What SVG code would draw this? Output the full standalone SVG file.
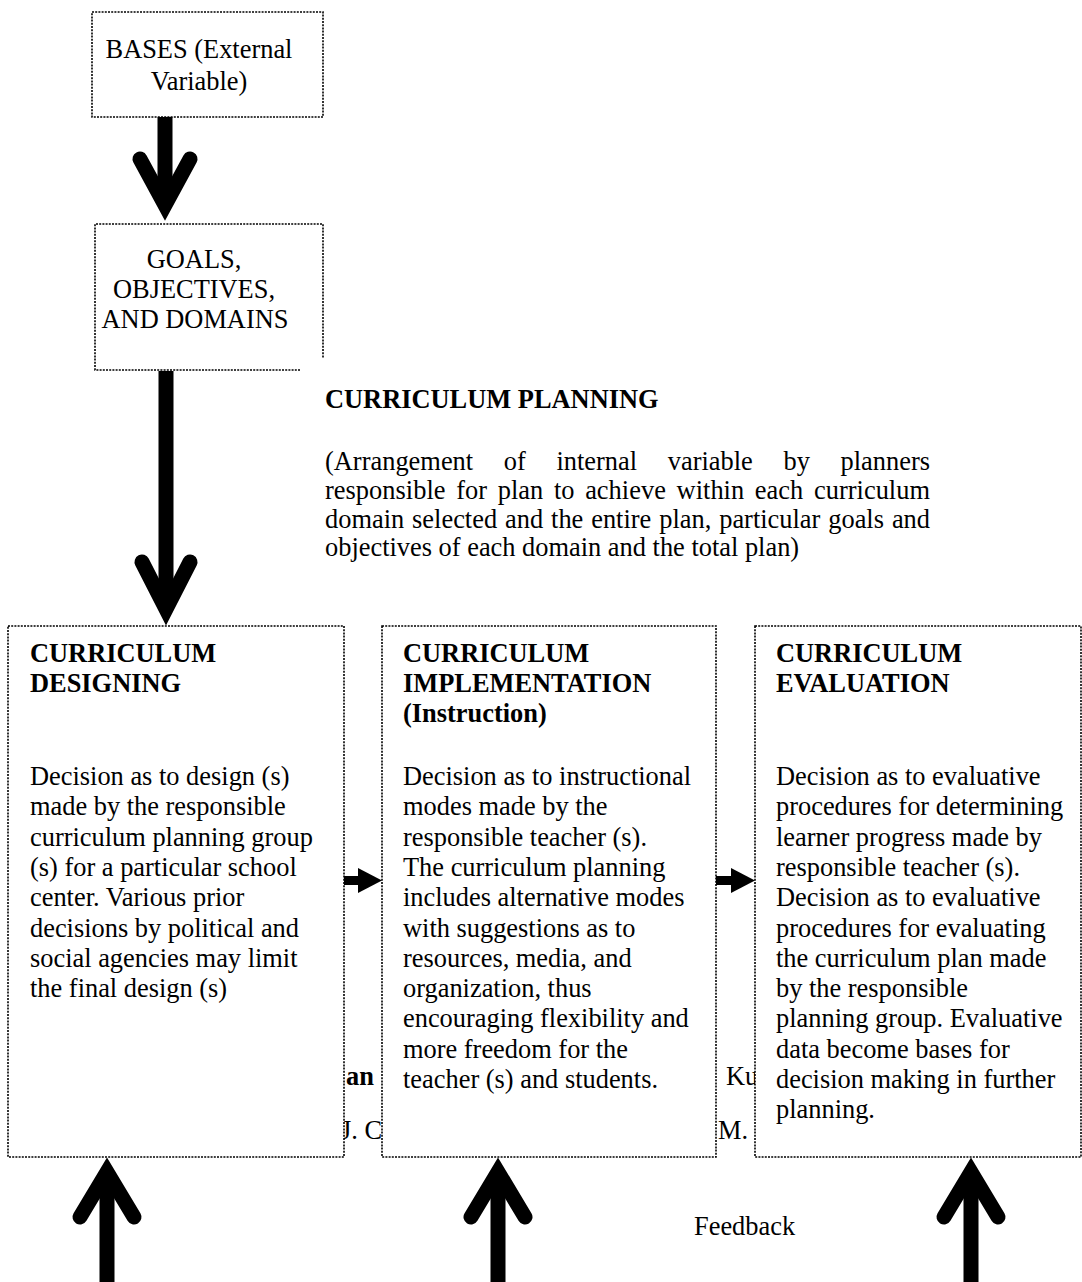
<svg xmlns="http://www.w3.org/2000/svg" width="1082" height="1282" viewBox="0 0 1082 1282">
<style>
text{font-family:"Liberation Serif","Times New Roman",serif;font-size:26.4px;fill:#000}
.b{font-weight:bold}
.box{fill:#fff;stroke:#000;stroke-width:1.6;stroke-dasharray:2 1.2}
.edge{fill:none;stroke:#000;stroke-width:1.6;stroke-dasharray:2 1.2}
.shaft{stroke:#000;stroke-width:15;fill:none}
.head{stroke:#000;stroke-width:15;fill:none;stroke-linecap:round;stroke-linejoin:miter;stroke-miterlimit:10}
</style>
<rect width="1082" height="1282" fill="#fff"/>
<g id="background-text">
<text class="b" x="346" y="1085">an</text>
<text x="726" y="1085">Ku</text>
<text x="341" y="1139">J. C</text>
<text x="718" y="1139">M.</text>
</g>
<g id="bases">
<rect class="box" x="92" y="12" width="231" height="105"/>
<text x="199" y="58" text-anchor="middle">BASES (External</text>
<text x="199" y="90" text-anchor="middle">Variable)</text>
</g>
<g id="goals">
<path class="edge" d="M300,370 H95 V224 H323 V358"/>
<text x="194" y="268" text-anchor="middle">GOALS,</text>
<text x="194" y="298" text-anchor="middle">OBJECTIVES,</text>
<text x="195" y="328" text-anchor="middle">AND DOMAINS</text>
</g>
<g id="planning">
<text class="b" x="325" y="408">CURRICULUM PLANNING</text>
<text x="325" y="470" word-spacing="24" textLength="605" lengthAdjust="spacing">(Arrangement of internal variable by planners</text>
<text x="325" y="499" word-spacing="4" textLength="605" lengthAdjust="spacing">responsible for plan to achieve within each curriculum</text>
<text x="325" y="528" word-spacing="1.3" textLength="605" lengthAdjust="spacing">domain selected and the entire plan, particular goals and</text>
<text x="325" y="556">objectives of each domain and the total plan)</text>
</g>
<g id="designing">
<rect class="box" x="8" y="626" width="336" height="531"/>
<text class="b" x="30" y="662">CURRICULUM</text>
<text class="b" x="30" y="692">DESIGNING</text>
<text x="30" y="785">Decision as to design (s)</text>
<text x="30" y="815.3">made by the responsible</text>
<text x="30" y="845.6">curriculum planning group</text>
<text x="30" y="875.9">(s) for a particular school</text>
<text x="30" y="906.2">center. Various prior</text>
<text x="30" y="936.5">decisions by political and</text>
<text x="30" y="966.8">social agencies may limit</text>
<text x="30" y="997.1">the final design (s)</text>
</g>
<g id="implementation">
<rect class="box" x="382" y="626" width="334" height="531"/>
<text class="b" x="403" y="662">CURRICULUM</text>
<text class="b" x="403" y="692">IMPLEMENTATION</text>
<text class="b" x="403" y="722">(Instruction)</text>
<text x="403" y="785">Decision as to instructional</text>
<text x="403" y="815.3">modes made by the</text>
<text x="403" y="845.6">responsible teacher (s).</text>
<text x="403" y="875.9">The curriculum planning</text>
<text x="403" y="906.2">includes alternative modes</text>
<text x="403" y="936.5">with suggestions as to</text>
<text x="403" y="966.8">resources, media, and</text>
<text x="403" y="997.1">organization, thus</text>
<text x="403" y="1027.4">encouraging flexibility and</text>
<text x="403" y="1057.7">more freedom for the</text>
<text x="403" y="1088">teacher (s) and students.</text>
</g>
<g id="evaluation">
<rect class="box" x="755" y="626" width="326" height="531"/>
<text class="b" x="776" y="662">CURRICULUM</text>
<text class="b" x="776" y="692">EVALUATION</text>
<text x="776" y="785">Decision as to evaluative</text>
<text x="776" y="815.3">procedures for determining</text>
<text x="776" y="845.6">learner progress made by</text>
<text x="776" y="875.9">responsible teacher (s).</text>
<text x="776" y="906.2">Decision as to evaluative</text>
<text x="776" y="936.5">procedures for evaluating</text>
<text x="776" y="966.8">the curriculum plan made</text>
<text x="776" y="997.1">by the responsible</text>
<text x="776" y="1027.4">planning group. Evaluative</text>
<text x="776" y="1057.7">data become bases for</text>
<text x="776" y="1088">decision making in further</text>
<text x="776" y="1118.3">planning.</text>
</g>
<g id="feedback">
<text x="694" y="1235">Feedback</text>
</g>
<g id="connectors">
<line class="shaft" x1="165" y1="117" x2="165" y2="205"/>
<polyline class="head" points="140,159 165,205 190,159"/>
<line class="shaft" x1="166" y1="371" x2="166" y2="609"/>
<polyline class="head" points="142,562 166,609 190,562"/>
<rect x="344" y="876" width="16" height="9" fill="#000"/>
<polygon points="358,868 382,880.5 358,893" fill="#000"/>
<rect x="716" y="876" width="17" height="9" fill="#000"/>
<polygon points="731,868 755,880.5 731,893" fill="#000"/>
<line class="shaft" x1="107" y1="1282" x2="107" y2="1172"/>
<polyline class="head" points="80,1217 107,1172 134,1217"/>
<line class="shaft" x1="498" y1="1282" x2="498" y2="1172"/>
<polyline class="head" points="471,1217 498,1172 525,1217"/>
<line class="shaft" x1="971" y1="1282" x2="971" y2="1172"/>
<polyline class="head" points="944,1217 971,1172 998,1217"/>
</g>
</svg>
